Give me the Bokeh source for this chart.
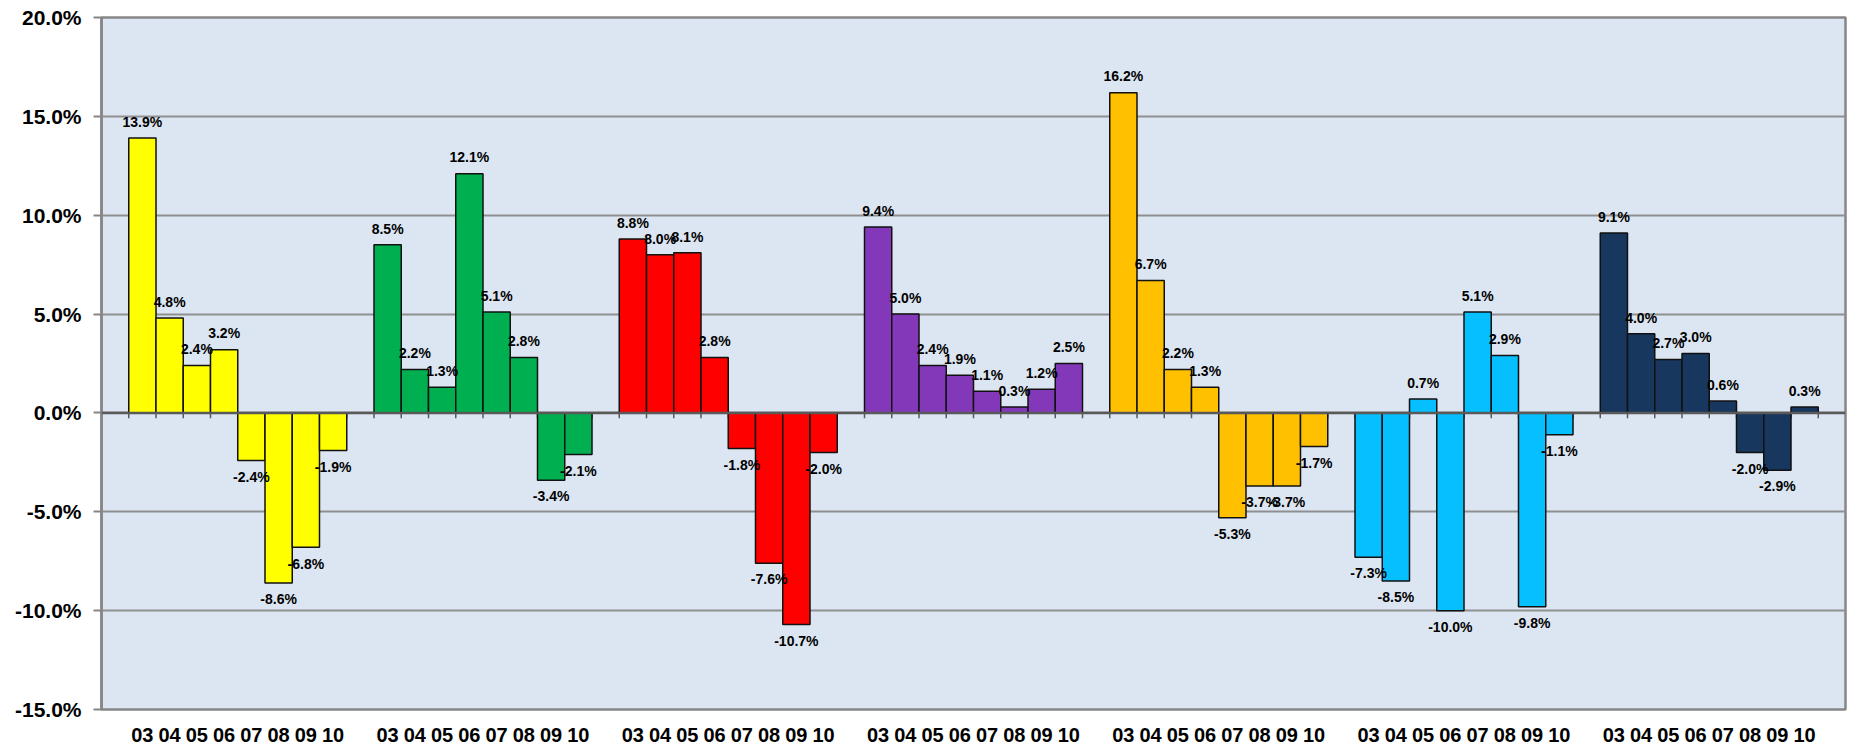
from bokeh.plotting import figure
from bokeh.models import ColumnDataSource, FixedTicker, PrintfTickFormatter, CustomJSTickFormatter, Span, Range1d
from bokeh.core.properties import value
from bokeh.embed import file_html
from bokeh.resources import INLINE

# Year labels shared by every group
years = ["03", "04", "05", "06", "07", "08", "09", "10"]

# Annual change (%) for each group, 2003-2010
yellow_series = [13.9, 4.8, 2.4, 3.2, -2.4, -8.6, -6.8, -1.9]
green_series = [8.5, 2.2, 1.3, 12.1, 5.1, 2.8, -3.4, -2.1]
red_series = [8.8, 8.0, 8.1, 2.8, -1.8, -7.6, -10.7, -2.0]
purple_series = [9.4, 5.0, 2.4, 1.9, 1.1, 0.3, 1.2, 2.5]
orange_series = [16.2, 6.7, 2.2, 1.3, -5.3, -3.7, -3.7, -1.7]
blue_series = [-7.3, -8.5, 0.7, -10.0, 5.1, 2.9, -9.8, -1.1]
navy_series = [9.1, 4.0, 2.7, 3.0, 0.6, -2.0, -2.9, 0.3]

series = [yellow_series, green_series, red_series, purple_series,
          orange_series, blue_series, navy_series]
colors = ["#FFFF00", "#00B050", "#FF0000", "#8338B9",
          "#FFC000", "#05BFFF", "#17375E"]

y_ticks = [-15, -10, -5, 0, 5, 10, 15, 20]

# One empty slot before, between and after the groups
n_years = len(years)
group_step = n_years + 1
n_slots = len(series) * group_step + 1

xs, tops, fills, labels, label_y = [], [], [], [], []
for g, (vals, col) in enumerate(zip(series, colors)):
    for j, v in enumerate(vals):
        xs.append(1 + g * group_step + j + 0.5)
        tops.append(v)
        fills.append(col)
        labels.append(f"{v:.1f}%")
        label_y.append(v + (0.82 if v >= 0 else -0.82))

src = ColumnDataSource(dict(x=xs, top=tops, fill=fills, label=labels, ly=label_y))

p = figure(width=1849, height=745, output_backend="svg", toolbar_location=None,
           x_range=Range1d(0, n_slots), y_range=Range1d(-15, 20),
           min_border_left=101, min_border_right=4, min_border_top=17, min_border_bottom=36)

p.background_fill_color = "#DCE6F2"
p.border_fill_color = "white"
p.outline_line_color = "#868686"
p.outline_line_width = 2.5

# Grid
p.xgrid.grid_line_color = None
p.ygrid.ticker = FixedTicker(ticks=y_ticks)
p.ygrid.grid_line_color = "#8F8F8F"
p.ygrid.grid_line_width = 2

# Y axis
p.yaxis.ticker = FixedTicker(ticks=y_ticks)
p.yaxis.formatter = PrintfTickFormatter(format="%.1f%%")
p.yaxis.axis_line_color = "#868686"
p.yaxis.axis_line_width = 2.5
p.yaxis.major_tick_line_color = "#868686"
p.yaxis.major_tick_line_width = 2
p.yaxis.major_tick_out = 8
p.yaxis.major_tick_in = 0
p.yaxis.minor_tick_line_color = None
p.yaxis.major_label_standoff = 12
p.yaxis.major_label_text_font = "Liberation Sans"
p.yaxis.major_label_text_font_style = "bold"
p.yaxis.major_label_text_font_size = "21px"
p.yaxis.major_label_text_color = "black"

# X axis: year under each bar
p.xaxis.ticker = FixedTicker(ticks=xs)
p.xaxis.formatter = CustomJSTickFormatter(args=dict(years=years, step=group_step), code="""
    const j = Math.floor(tick) - 1;
    const k = ((j % step) + step) % step;
    return k < years.length ? years[k] : "";
""")
p.xaxis.axis_line_color = None
p.xaxis.major_tick_line_color = None
p.xaxis.minor_tick_line_color = None
p.xaxis.major_label_standoff = 12
p.xaxis.major_label_text_font = "Liberation Sans"
p.xaxis.major_label_text_font_style = "bold"
p.xaxis.major_label_text_font_size = "20px"
p.xaxis.major_label_text_color = "black"

# Small category ticks hanging from the zero line
bounds = list(range(1, n_slots))
p.segment(x0=bounds, x1=bounds, y0=[0] * len(bounds), y1=[-0.27] * len(bounds),
          line_color="#595959", line_width=1.5)

# Bars
p.vbar(x="x", top="top", bottom=0, width=1, source=src,
       fill_color="fill", line_color="#111111", line_width=1.5)

# Zero line
p.add_layout(Span(location=0, dimension="width", line_color="#595959", line_width=2.5))

# Value labels
p.text(x="x", y="ly", text="label", source=src,
       text_font=value("Liberation Sans"), text_font_style="bold",
       text_font_size="14px", text_align="center", text_baseline="middle",
       text_color="black")

open("out.html", "w").write(file_html(p, INLINE))
